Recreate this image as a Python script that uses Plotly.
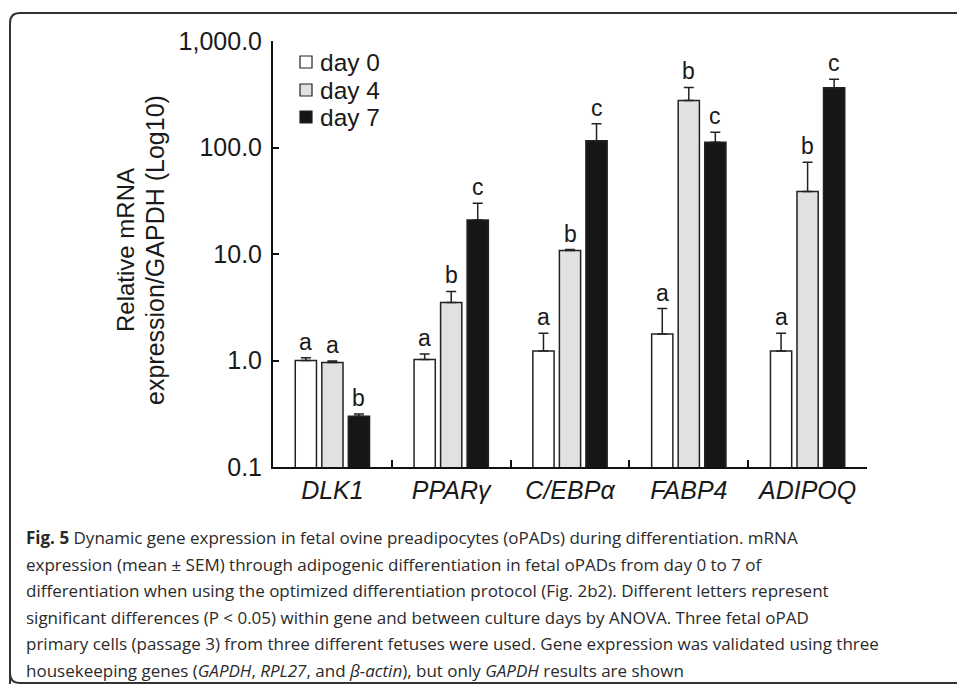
import math
import plotly.graph_objects as go

genes = ["DLK1", "PPARγ", "C/EBPα", "FABP4", "ADIPOQ"]
days = ["day 0", "day 4", "day 7"]
day0 = [1.0, 1.02, 1.23, 1.77, 1.23]
day4 = [0.96, 3.5, 10.8, 276, 38.6]
day7 = [0.30, 20.9, 116, 112, 363]
err0 = [0.06, 0.13, 0.57, 1.3, 0.57]
err4 = [0.03, 0.95, 0.2, 90, 34]
err7 = [0.015, 9, 51, 27, 74]
let0 = ["a", "a", "a", "a", "a"]
let4 = ["a", "b", "b", "b", "b"]
let7 = ["b", "c", "c", "c", "c"]
ytickvals = [0.1, 1, 10, 100, 1000]
yticktext = ["0.1", "1.0", "10.0", "100.0", "1,000.0"]
caption = [
    "<b>Fig. 5</b> Dynamic gene expression in fetal ovine preadipocytes (oPADs) during differentiation. mRNA",
    "expression (mean ± SEM) through adipogenic differentiation in fetal oPADs from day 0 to 7 of",
    "differentiation when using the optimized differentiation protocol (Fig. 2b2). Different letters represent",
    "significant differences (P &lt; 0.05) within gene and between culture days by ANOVA. Three fetal oPAD",
    "primary cells (passage 3) from three different fetuses were used. Gene expression was validated using three",
    "housekeeping genes (<i>GAPDH</i>, <i>RPL27</i>, and <i>β-actin</i>), but only <i>GAPDH</i> results are shown",
]

W, H = 957, 684
ML, MR, MT, MB = 273, 90, 41, 217
PW, PH = W - ML - MR, H - MT - MB


def px(x):
    return (x - ML) / PW


def py(y):
    return (H - MB - y) / PH


FONT = "Liberation Sans, Arial, sans-serif"
INK = "#1a1a1a"
EDGE = "#222222"
fills = ["#ffffff", "#e1e1e1", "#161616"]
vals = [day0, day4, day7]
errs = [err0, err4, err7]
lets = [let0, let4, let7]

fig = go.Figure()
for name, v, e, c in zip(days, vals, errs, fills):
    fig.add_trace(go.Bar(
        x=genes, y=v, name=name,
        marker=dict(color=c, line=dict(color=EDGE, width=1.5)),
        error_y=dict(type="data", array=e, arrayminus=[0] * len(e), symmetric=False,
                     color=EDGE, thickness=1.5, width=5),
    ))

slot = PW / len(genes) * (1 - 0.33) / 3
for k, (v, e, L) in enumerate(zip(vals, errs, lets)):
    for g, vv, ee, ll in zip(genes, v, e, L):
        fig.add_annotation(x=g, y=math.log10(vv + ee), text=ll, showarrow=False,
                           xref="x", yref="y", yanchor="bottom", yshift=1,
                           xshift=(k - 1) * slot,
                           font=dict(family=FONT, size=23, color=INK))

# legend (drawn in the top-left corner of the plot)
leg_rows = [62, 90, 117]
for name, c, yy in zip(days, fills, leg_rows):
    fig.add_shape(type="rect", xref="paper", yref="paper",
                  x0=px(300), x1=px(312), y0=py(yy + 6), y1=py(yy - 6),
                  fillcolor=c, line=dict(color=EDGE, width=1.2))
    fig.add_annotation(x=px(318), y=py(yy), xref="paper", yref="paper", text=name,
                       showarrow=False, xanchor="left", yanchor="middle",
                       font=dict(family=FONT, size=24.5, color=INK))

# y-axis title lines
fig.add_annotation(x=px(125), y=py(250), xref="paper", yref="paper", text="Relative mRNA",
                   textangle=-90, showarrow=False, xanchor="center", yanchor="middle",
                   font=dict(family=FONT, size=24, color=INK))
fig.add_annotation(x=px(155), y=py(250), xref="paper", yref="paper", text="expression/GAPDH (Log10)",
                   textangle=-90, showarrow=False, xanchor="center", yanchor="middle",
                   font=dict(family=FONT, size=25, color=INK))

# caption
line_y = [537, 564, 590, 617, 643, 670]
for t, yy in zip(caption, line_y):
    fig.add_annotation(x=px(24), y=py(yy), xref="paper", yref="paper", text=t,
                       showarrow=False, xanchor="left", yanchor="middle", align="left",
                       font=dict(family="Open Sans, sans-serif", size=17, color="#2a2a2a"))

# outer rounded frame
x0, y0, r = px(10), py(13), 10
rx, ry = r / PW, r / PH
xb, yb = px(10), py(683)
path = (f"M {x0},{py(700)} L {x0},{y0 - ry} Q {x0},{y0} {x0 + rx},{y0} L {px(990)},{y0}")
fig.add_shape(type="path", path=path, xref="paper", yref="paper",
              line=dict(color="#333333", width=2))
path2 = (f"M {xb},{yb + ry} Q {xb},{yb} {xb + rx},{yb} L {px(990)},{yb}")
fig.add_shape(type="path", path=path2, xref="paper", yref="paper",
              line=dict(color="#333333", width=2))

fig.update_layout(
    width=W, height=H,
    margin=dict(l=ML, r=MR, t=MT, b=MB),
    paper_bgcolor="white", plot_bgcolor="white",
    barmode="group", bargap=0.33, bargroupgap=0.2,
    font=dict(family=FONT, size=24, color=INK),
    showlegend=False,
    xaxis=dict(type="category", showline=True, linecolor="#111111", linewidth=2,
               ticks="inside", ticklen=7, tickwidth=1.5, tickcolor="#111111",
               tickson="boundaries", showgrid=False, zeroline=False,
               tickfont=dict(family=FONT, size=25, color=INK),
               tickvals=genes, ticktext=[f"<i>{g}</i>" for g in genes]),
    yaxis=dict(type="log", range=[-1, 3], showline=True, linecolor="#111111", linewidth=2,
               ticks="inside", ticklen=6, tickwidth=1.5, tickcolor="#111111",
               tickvals=ytickvals, ticktext=yticktext, showgrid=False, zeroline=False,
               tickfont=dict(family=FONT, size=25, color=INK), ticklabelstandoff=4),
)

fig.write_html("out.html", config={"displayModeBar": False},
               post_script="document.body.style.margin='0';document.body.style.overflow='hidden';")
